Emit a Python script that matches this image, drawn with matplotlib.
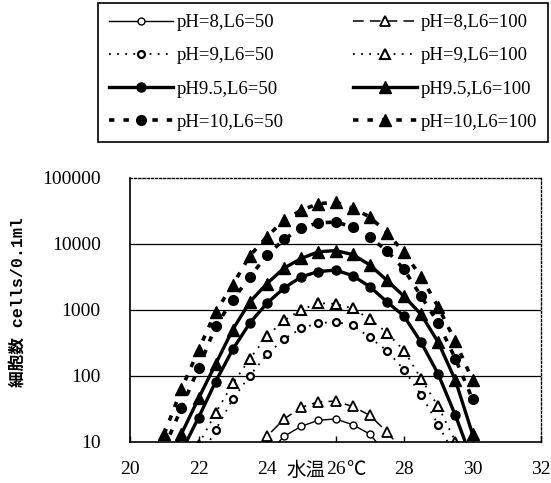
import numpy as np
import matplotlib
matplotlib.use("Agg")
from matplotlib import pyplot as plt

nan = np.nan

# water temperature (deg C), one point every 0.5
temp = [21.0, 21.5, 22.0, 22.5, 23.0, 23.5, 24.0, 24.5, 25.0, 25.5,
        26.0, 26.5, 27.0, 27.5, 28.0, 28.5, 29.0, 29.5, 30.0]

# cells / 0.1 ml
ph8_50   = [nan, nan, nan, nan, nan, nan, 6.3, 12, 17, 21,
            22, 18, 13, 6.3, nan, nan, nan, nan, nan]
ph8_100  = [nan, nan, nan, nan, nan, 5.6, 12, 22, 33, 40,
            41, 34, 25, 14, 7, nan, nan, nan, nan]
ph9_50   = [nan, nan, 5, 15, 44, 100, 210, 360, 520, 630,
            650, 590, 380, 240, 123, 51, 18, 6, nan]
ph9_100  = [nan, nan, 9, 27, 76, 180, 400, 690, 1000, 1260,
            1230, 1050, 720, 450, 240, 90, 34, 10, 3]
ph95_50  = [2, 7, 23, 81, 250, 630, 1260, 2140, 3160, 3800,
            4000, 3300, 2240, 1320, 800, 320, 105, 25, 5]
ph95_100 = [4, 13, 45, 150, 500, 1320, 2500, 4300, 6000, 7600,
            7900, 6900, 4800, 2800, 1600, 850, 320, 85, 13]
ph10_50  = [8, 32, 130, 560, 1410, 3160, 6760, 11700, 17400, 20900,
            21400, 18200, 12600, 7900, 4100, 1600, 630, 180, 44]
ph10_100 = [13, 62, 245, 930, 2400, 6600, 12900, 22900, 32400, 40700,
            42700, 34700, 25700, 14800, 7400, 3160, 1100, 330, 85]

x_ticks = [20, 22, 24, 26, 28, 30, 32]
y_ticks = [10, 100, 1000, 10000, 100000]
y_tick_labels = ['10', '100', '1000', '10000', '100000']

serif = 'Liberation Serif'

fig = plt.figure(figsize=(5.51, 4.83), dpi=100)
ax = fig.add_axes([130/551, 1 - 441.5/483, 411/551, 263.5/483])

k = dict(color='black', clip_on=True)
ax.plot(temp, ph8_50, lw=1.0, marker='o', ms=5, mfc='white', mew=1.0,
        label='pH=8,L6=50', **k)
ax.plot(temp, ph9_50, lw=1.3, dashes=(1, 3.5), marker='o', ms=5, mfc='white', mew=1.6,
        label='pH=9,L6=50', **k)
ax.plot(temp, ph95_50, lw=2.4, marker='o', ms=6.5,
        label='pH9.5,L6=50', **k)
ax.plot(temp, ph10_50, lw=2.6, dashes=(1.5, 2.5), marker='o', ms=7,
        label='pH=10,L6=50', **k)
ax.plot(temp, ph8_100, lw=1.1, dashes=(7, 4), marker='^', ms=7, mfc='white', mew=1.3,
        label='pH=8,L6=100', **k)
ax.plot(temp, ph9_100, lw=1.3, dashes=(1, 3.5), marker='^', ms=7.5, mfc='white', mew=1.5,
        label='pH=9,L6=100', **k)
ax.plot(temp, ph95_100, lw=2.4, marker='^', ms=8,
        label='pH9.5,L6=100', **k)
ax.plot(temp, ph10_100, lw=2.6, dashes=(1.5, 2.5), marker='^', ms=9,
        label='pH=10,L6=100', **k)

ax.set_yscale('log')
ax.set_xlim(20, 32)
ax.set_ylim(10, 100000)

# horizontal grid lines
for v in y_ticks[1:-1]:
    ax.axhline(v, color='black', lw=0.9, zorder=0)

ax.set_xticks(x_ticks)
ax.set_xticklabels([str(t) for t in x_ticks], fontfamily=serif, fontsize=14)
ax.set_yticks(y_ticks)
ax.set_yticklabels(y_tick_labels, fontfamily=serif, fontsize=14)
ax.minorticks_off()
ax.tick_params(axis='x', direction='in', length=4, width=1, pad=14)
ax.tick_params(axis='y', length=0, pad=21)

for s in ['left', 'bottom']:
    ax.spines[s].set_linewidth(1.2)
for s in ['top', 'right']:
    ax.spines[s].set_linestyle((0, (1.5, 1.5)))
    ax.spines[s].set_linewidth(1.0)

# x axis title sits around the 26 tick label, as in the original
ax.annotate('水温', xy=(25.72, 0), xycoords=('data', 'axes fraction'),
            xytext=(0, -21), textcoords='offset points', ha='right', va='center',
            fontsize=14, family=['Noto Sans CJK JP', 'DejaVu Sans'])
ax.annotate('℃', xy=(26.3, 0), xycoords=('data', 'axes fraction'),
            xytext=(0, -21), textcoords='offset points', ha='left', va='center',
            fontsize=14, family=['Liberation Serif', 'Noto Sans CJK JP', 'DejaVu Sans'])

fig.text(18/551, 1 - 302/483, '細胞数 cells/0.1ml', rotation=90, ha='center', va='center',
         fontsize=12, fontweight='bold', family=['Liberation Mono', 'Noto Sans CJK JP'])

leg = fig.legend(loc='upper left', bbox_to_anchor=(98/551, 0, 450/551, 1 - 3/483),
                 mode='expand', ncol=2, numpoints=1, handlelength=3.4,
                 handletextpad=0.2, labelspacing=0.85, borderpad=0.6,
                 borderaxespad=0, fancybox=False, framealpha=1,
                 prop={'family': serif, 'size': 13.5})
leg.get_frame().set_edgecolor('black')
leg.get_frame().set_linewidth(1.2)

plt.savefig('out.png', dpi=100)
